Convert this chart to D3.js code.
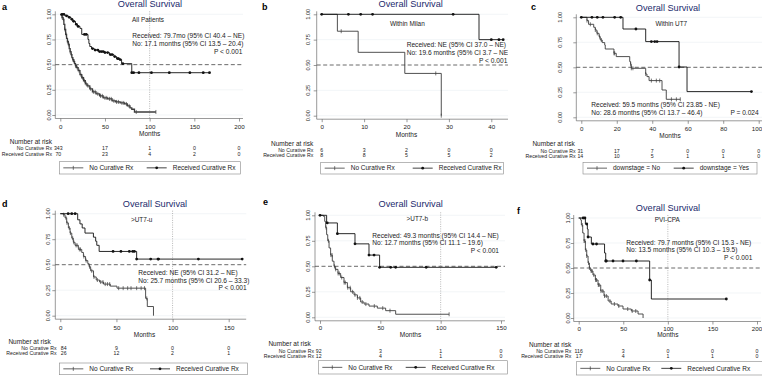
<!DOCTYPE html>
<html>
<head>
<meta charset="utf-8">
<script src="https://cdn.jsdelivr.net/npm/d3@7"></script>
<style>
body{margin:0;background:#fff}
svg{display:block;font-family:"Liberation Sans",Arial,sans-serif}
</style>
</head>
<body>
<div id="wrapper"></div>
<script>
// ---- Data ----
const panelLetters = ["a","b","c","d","e","f"];
const titleText = "Overall Survival";
const subgroups = ["All Patients","Within Milan","Within UT7",">UT7-u",">UT7-b","PVI-CPA"];
const xTicks = [[0,50,100,150,200],[0,10,20,30,40],[0,20,40,60,80,100],[0,50,100,150],[0,50,100,150],[0,50,100,150,200]];
const yTicks = [0,0.25,0.5,0.75,1];
const riskNo  = [[343,17,1,0,0],[6,3,2,0,0],[31,17,7,0,0,0],[84,9,0,0],[92,3,1,0],[116,3,0,0,0]];
const riskRec = [[70,23,4,2,0],[8,8,5,5,2],[14,10,5,1,1,0],[26,12,2,1],[12,4,1,0],[17,4,1,1,0]];
const rowNames = ["No Curative Rx","Received Curative Rx"];
const legendNames = [
  ["No Curative Rx","Received Curative Rx"],["No Curative Rx","Received Curative Rx"],
  ["downstage = No","downstage = Yes"],["No Curative Rx","Received Curative Rx"],
  ["No Curative Rx","Received Curative Rx"],["No Curative Rx","Received Curative Rx"]];
const statRec = ["Received: 79.7mo (95% CI 40.4 \u2013 NE)","Received: NE (95% CI 37.0 \u2013 NE)",
  "Received: 59.5 months (95% CI 23.85 - NE)","Received: NE (95% CI 31.2 \u2013 NE)",
  "Received: 49.3 months (95% CI 14.4 \u2013 NE)","Received: 79.7 months (95% CI 15.3 - NE)"];
const statNo = ["No: 17.1 months (95% CI 13.5 \u2013 20.4)","No: 19.6 months (95% CI 3.7 \u2013 NE)",
  "No: 28.6 months (95% CI 13.7 \u2013 46.4)","No: 25.7 months (95% CI 20.6 \u2013 33.3)",
  "No: 12.7 months (95% CI 11.1 \u2013 19.6)","No: 13.5 months (95% CI 10.3 \u2013 19.5)"];
const statP = ["P < 0.001","P < 0.001","P = 0.024","P < 0.001","P < 0.001","P < 0.001"];
const refLine100 = [true,false,false,true,true,true];

// Kaplan-Meier steps [month, survival], censor times in months
const noA = [[0,1],[1,0.99],[2,0.97],[3,0.95],[4,0.9],[5,0.85],[6,0.8],[7,0.76],[8,0.73],[9,0.7],[10,0.66],[11,0.63],[12,0.6],[13,0.57],[14,0.55],[15,0.53],[16,0.51],[17,0.49],[18,0.47],[20,0.44],[22,0.4],[24,0.37],[26,0.34],[28,0.31],[30,0.29],[33,0.26],[36,0.23],[40,0.21],[44,0.19],[48,0.17],[53,0.16],[58,0.14],[62,0.13],[67,0.12],[72,0.11],[75,0.09],[78,0.07],[80,0.057],[83,0.03],[107,0.03]];
const noCensA = [2,3.5,5,6.5,8,9.5,11,12.5,14,15.5,17,19,21,23,25,27,29,31,34,37,39,42,45,47,50,52,55,57,60,63,65,69,71,74,77,85,107];
const recA = [[0,1],[5,0.985],[9,0.97],[12,0.95],[14,0.93],[17,0.9],[19,0.88],[22,0.86],[24,0.8],[31,0.75],[32,0.71],[33,0.68],[35,0.66],[38,0.645],[43,0.63],[50,0.62],[55,0.6],[60,0.58],[63,0.56],[66,0.55],[68.6,0.51],[80,0.42],[167,0.42]];
const recCensA = [2,4,7,10,13,15,18,20,27,29,36,39,42,44,46,48,50,53,56,58,61,64,65,67,70,80,82,88,102,122,145,160,167];

const noB = [[0,1],[3.7,0.833],[8.6,0.625],[19.6,0.417],[28.2,0]];
const noCensB = [4.6,26.9,28.2];
const recB = [[0,1],[37.1,0.75],[42.8,0.75]];
const recCensB = [0,6.3,9.2,12,31,40,41.8,42.8];

const noC = [[0,1],[3.2,0.967],[4.1,0.93],[7,0.9],[7.9,0.873],[8.8,0.84],[10,0.807],[10.7,0.773],[11.8,0.747],[13.2,0.723],[13.5,0.683],[18.4,0.64],[19.7,0.607],[27.3,0.557],[27.8,0.53],[28.2,0.49],[36.3,0.433],[37,0.407],[38.2,0.367],[45.5,0.273],[47.9,0.18],[55.8,0.18]];
const noCensC = [3.2,5.1,7.9,9,10.3,11.3,18.4,18.8,27.8,28.2,29.1,36.3,39.5,42.3,44.2,50.8,53.6,55.8];
const recC = [[0,1],[23.5,0.883],[36.3,0.757],[55.1,0.503],[59.6,0.257],[95.9,0.257]];
const recCensC = [0,6,9,12.2,18.8,22.2,30.8,39.5,41.4,42.7,55.1,95.9];

const noD = [[0,1],[2.7,0.99],[4.2,0.96],[5.7,0.91],[7.2,0.86],[8.7,0.81],[10.2,0.76],[11.6,0.72],[13.1,0.69],[16.1,0.65],[19.1,0.62],[20.6,0.58],[22.5,0.54],[24.5,0.51],[25.7,0.48],[27,0.44],[29.6,0.38],[32,0.35],[35,0.33],[38.5,0.31],[44.5,0.29],[50.5,0.27],[76,0.17],[77.5,0.09],[83,0]];
const noCensD = [3,5,6,8,9,11,12,14,15,17,18,21,23,26,28,30,33,36,38,40,42,44,52,56,60,63,68,72,75,77];
const recD = [[0,1],[15.5,0.94],[17.5,0.9],[19.5,0.86],[22,0.81],[29.5,0.77],[31.5,0.73],[32.5,0.69],[34.6,0.63],[68,0.555],[162,0.555]];
const recCensD = [7,10.2,13.2,47,54,61.5,64.5,66,68,80.5,87,87.5,123,162];

const noE = [[0,1],[2.8,0.99],[3.9,0.94],[4.7,0.88],[5.5,0.81],[6.4,0.75],[7.5,0.68],[8.8,0.61],[10.2,0.55],[11.6,0.5],[12.7,0.47],[14.9,0.43],[17.1,0.39],[19.9,0.34],[22.7,0.29],[25.4,0.25],[28.2,0.22],[31,0.19],[33.7,0.15],[36.5,0.13],[40.6,0.11],[47.5,0.09],[54.4,0.065],[62.7,0.03],[107,0.03]];
const noCensE = [5,7,9,10,12,13,15,16,18,20,21,23,25,27,29,31,33,35,38,45,52,58,107];
const recE = [[0,1],[5.5,0.925],[14.4,0.82],[29,0.72],[40.6,0.61],[49.4,0.49],[146,0.49]];
const recCensE = [0,6,14.4,29,40.6,44.8,49.4,58.6,62.7,88,146];

const noF = [[0,1],[2.2,0.98],[3,0.93],[4.5,0.85],[6,0.77],[7.5,0.68],[9,0.62],[10.5,0.55],[12,0.5],[13.5,0.47],[16,0.43],[18.7,0.38],[21.7,0.33],[24.7,0.27],[28.4,0.22],[33,0.17],[36.4,0.14],[44,0.12],[49.7,0.09],[59,0.07],[66.6,0.04],[72.2,0]];
const noCensF = [4,6,7,8,9,11,12,14,15,17,19,20,22,23,25,27,29,31,35,40,45,55,60,64];
const recF = [[0,1],[7.5,0.94],[9.7,0.89],[10.5,0.81],[14.2,0.74],[29,0.65],[30.3,0.57],[79.6,0.38],[81.5,0.19],[165.6,0.19]];
const recCensF = [5,7,9,10.5,16,20,30.3,31,38.5,49.7,64.7,79.6,165.6];

const noCurves = [noA,noB,noC,noD,noE,noF];
const noCens = [noCensA,noCensB,noCensC,noCensD,noCensE,noCensF];
const recCurves = [recA,recB,recC,recD,recE,recF];
const recCens = [recCensA,recCensB,recCensC,recCensD,recCensE,recCensF];

// ---- Layout (pixel positions of each panel) ----
const layout = [
 {xp:[60.3,239], xmax:200, yp:[14.3,115], yLab:49, letter:[2,6.7], title:[150,3.9], sub:[148,19.3],
  statX:132.3, statY:[36,43.7,51.7], pX:242.3, tickY:126.7, monthsY:133.3, narX:52, narY:141.7, rowX:52, rowY:[148.3,153.9], r0dx:-2, legend:[59.3,161.7,181.3,12.3,87.4]},
 {xp:[321.7,491.3], xmax:43.7, yp:[14.3,115.7], yLab:308.3, letter:[262,6.7], title:[410.7,4], sub:[407.3,24],
  statX:406.7, statY:[44.3,52.3,60.7], pX:507.3, tickY:127.3, monthsY:135, narX:313.3, narY:143.3, rowX:313.3, rowY:[150,155.3], r0dx:0, legend:[320.7,162.3,182.7,11.7,92]},
 {xp:[581.3,758.7], xmax:100, yp:[17.3,117.3], yLab:560.3, letter:[531,6.7], title:[668,7.3], sub:[671.3,24],
  statX:591.3, statY:[104.3,113,113], pX:758.7, tickY:129, monthsY:136, narX:574.7, narY:144, rowX:575.7, rowY:[150.7,156], r0dx:-1, legend:[583,162.3,174,11.7,90.7]},
 {xp:[60.3,228.7], xmax:162, yp:[213.7,315.7], yLab:47.7, letter:[2,204], title:[155,203.7], sub:[141.7,220],
  statX:138.3, statY:[273,280.7,288], pX:246.7, tickY:328, monthsY:334.7, narX:50.7, narY:341.3, rowX:56.5, rowY:[348,353.3], r0dx:3.4, legend:[59.3,363,188,11.7,90.7]},
 {xp:[320,501], xmax:150, yp:[215.3,317.3], yLab:308.3, letter:[263,202.3], title:[410.7,204], sub:[417.3,219],
  statX:372.3, statY:[235.7,243,250.7], pX:499, tickY:328.3, monthsY:335, narX:310.7, narY:344, rowX:314, rowY:[350.7,356], r0dx:-1.3, legend:[318.3,360.7,189,13.3,87.4]},
 {xp:[578.7,757], xmax:200, yp:[218,318], yLab:568, letter:[517,211.3], title:[668,208], sub:[667.3,220],
  statX:626.3, statY:[242.3,249.7,258], pX:752.3, tickY:329.3, monthsY:335, narX:571.3, narY:345, rowX:571.3, rowY:[351,356], r0dx:0, legend:[576.3,361.7,186.7,13.3,85]}
];

const noColor = "#3c3c3c", recColor = "#111", axisColor = "#555";

const svg = d3.select("#wrapper").append("svg").attr("width",762).attr("height",376);
svg.append("defs").append("clipPath").attr("id","clipB")
  .append("rect").attr("x",254).attr("y",0).attr("width",254).attr("height",188);

function survAt(curve,t){
  let s = curve[0][1];
  curve.forEach(d=>{ if(d[0]<=t) s=d[1]; });
  return s;
}

layout.forEach((L,i)=>{
  const g = svg.append("g");
  if(i===1) g.attr("clip-path","url(#clipB)");
  const ticks = xTicks[i];
  const x = d3.scaleLinear().domain([0,ticks[ticks.length-1]]).range(L.xp);
  const y = d3.scaleLinear().domain([0,1]).range([L.yp[1],L.yp[0]]);
  const axL = L.xp[0]-5, axY = L.yp[1]+3.5, axR = x(L.xmax)+4, top = L.yp[0]-3;

  // gridlines
  g.selectAll(".grid").data(yTicks.filter(d=>d!==0.5)).join("line")
    .attr("x1",axL).attr("x2",axR).attr("y1",d=>y(d)).attr("y2",d=>y(d))
    .attr("stroke","#edf1f4").attr("stroke-width",0.7);

  // y axis
  const ya = g.append("g").attr("transform",`translate(${axL},0)`)
    .call(d3.axisLeft(y).tickValues(yTicks).tickSize(3).tickFormat(""));
  ya.select(".domain").remove();
  ya.selectAll("line").attr("stroke",axisColor).attr("stroke-width",0.6);
  g.selectAll(".ylab").data(yTicks).join("text")
    .attr("transform",d=>`translate(${L.yLab},${y(d)}) rotate(-90)`)
    .attr("text-anchor","middle").attr("dy","0.35em")
    .attr("font-size","5.6px").attr("fill","#222")
    .text(d3.format(".2f"));

  // x axis
  const xa = g.append("g").attr("transform",`translate(0,${axY})`)
    .call(d3.axisBottom(x).tickValues(ticks).tickSize(3));
  xa.select(".domain").remove();
  xa.selectAll("line").attr("stroke",axisColor).attr("stroke-width",0.6);
  xa.selectAll("text").attr("y",L.tickY-axY).attr("dy","0.35em")
    .attr("font-size","6.2px").attr("fill","#222").attr("font-family",null)
    .attr("x",d=>Math.min(0,756.5-x(d)));

  g.append("line").attr("x1",axL).attr("x2",axL).attr("y1",top).attr("y2",axY)
    .attr("stroke",axisColor).attr("stroke-width",0.6);
  g.append("line").attr("x1",axL).attr("x2",axR).attr("y1",axY).attr("y2",axY)
    .attr("stroke",axisColor).attr("stroke-width",0.6);

  // reference lines
  g.append("line").attr("x1",axL).attr("x2",axR).attr("y1",y(0.5)).attr("y2",y(0.5))
    .attr("stroke","#444").attr("stroke-width",0.8).attr("stroke-dasharray","4,2.5");
  if(refLine100[i]){
    g.append("line").attr("x1",x(100)).attr("x2",x(100)).attr("y1",top).attr("y2",axY)
      .attr("stroke","#999").attr("stroke-width",0.7).attr("stroke-dasharray","1,1.3");
  }

  // curves
  const line = d3.line().x(d=>x(d[0])).y(d=>y(d[1])).curve(d3.curveStepAfter);
  g.append("path").datum(noCurves[i]).attr("d",line)
    .attr("fill","none").attr("stroke",noColor).attr("stroke-width",i===0?1.3:0.9);
  g.selectAll(".ncens").data(noCens[i]).join("line")
    .attr("x1",d=>x(d)).attr("x2",d=>x(d))
    .attr("y1",d=>y(survAt(noCurves[i],d))-2).attr("y2",d=>y(survAt(noCurves[i],d))+2)
    .attr("stroke",noColor).attr("stroke-width",0.7);
  g.append("path").datum(recCurves[i]).attr("d",line)
    .attr("fill","none").attr("stroke",recColor).attr("stroke-width",0.9);
  g.selectAll(".rcens").data(recCens[i]).join("circle")
    .attr("cx",d=>x(d)).attr("cy",d=>y(survAt(recCurves[i],d))).attr("r",1.4)
    .attr("fill",recColor);

  // titles and annotations
  g.append("text").attr("x",L.letter[0]).attr("y",L.letter[1]).attr("dy","0.35em")
    .attr("font-size","9px").attr("font-weight","bold").attr("fill","#000").text(panelLetters[i]);
  g.append("text").attr("x",L.title[0]).attr("y",L.title[1]).attr("dy","0.35em")
    .attr("text-anchor","middle").attr("font-size","9.2px").attr("fill","#1c2a6c").text(titleText);
  g.append("text").attr("x",L.sub[0]).attr("y",L.sub[1]).attr("dy","0.35em")
    .attr("text-anchor","middle").attr("font-size","6.4px").attr("fill","#222").text(subgroups[i]);
  g.append("text").attr("x",L.statX).attr("y",L.statY[0]).attr("dy","0.35em")
    .attr("font-size","6.6px").attr("fill","#222").text(statRec[i]);
  g.append("text").attr("x",L.statX).attr("y",L.statY[1]).attr("dy","0.35em")
    .attr("font-size","6.6px").attr("fill","#222").text(statNo[i]);
  g.append("text").attr("x",L.pX).attr("y",L.statY[2]).attr("dy","0.35em")
    .attr("text-anchor","end").attr("font-size","6.6px").attr("fill","#222").text(statP[i]);
  g.append("text").attr("x",(L.xp[0]+L.xp[1])/2).attr("y",L.monthsY).attr("dy","0.35em")
    .attr("text-anchor","middle").attr("font-size","6.5px").attr("fill","#222").text("Months");

  // number at risk
  g.append("text").attr("x",L.narX).attr("y",L.narY).attr("dy","0.35em")
    .attr("text-anchor","end").attr("font-size","6.5px").attr("fill","#222").text("Number at risk");
  [riskNo[i],riskRec[i]].forEach((row,r)=>{
    g.append("text").attr("x",L.rowX).attr("y",L.rowY[r]).attr("dy","0.35em")
      .attr("text-anchor","end").attr("font-size","5.2px").attr("fill","#222").text(rowNames[r]);
    g.selectAll(".risk"+r).data(row).join("text")
      .attr("x",(d,k)=>x(ticks[k])+(k===0?L.r0dx:0)).attr("y",L.rowY[r]).attr("dy","0.35em")
      .attr("text-anchor","middle").attr("font-size","5.2px").attr("fill","#222").text(d=>d);
  });

  // legend
  const [lx,ly,lw,lh,off2] = L.legend;
  g.append("rect").attr("x",lx).attr("y",ly).attr("width",lw).attr("height",lh)
    .attr("fill","#fff").attr("stroke","#888").attr("stroke-width",0.6);
  const cy = ly+lh/2;
  [4,off2].forEach((o,k)=>{
    const sx = lx+o;
    const col = k===0?noColor:recColor;
    g.append("line").attr("x1",sx).attr("x2",sx+20).attr("y1",cy).attr("y2",cy)
      .attr("stroke",col).attr("stroke-width",0.8);
    if(k===0){
      g.append("line").attr("x1",sx+10).attr("x2",sx+10).attr("y1",cy-2).attr("y2",cy+2)
        .attr("stroke",col).attr("stroke-width",0.7);
    } else {
      g.append("circle").attr("cx",sx+10).attr("cy",cy).attr("r",1.4).attr("fill",col);
    }
    g.append("text").attr("x",sx+26).attr("y",cy).attr("dy","0.35em")
      .attr("font-size","6.5px").attr("fill","#222").text(legendNames[i][k]);
  });
});
</script>
</body>
</html>
